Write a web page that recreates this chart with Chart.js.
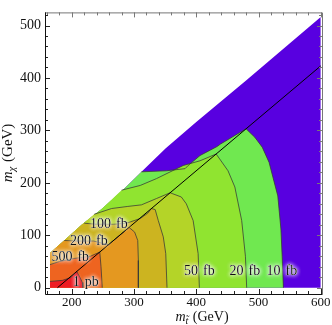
<!DOCTYPE html>
<html>
<head>
<meta charset="utf-8">
<script src="https://cdn.jsdelivr.net/npm/chart.js@4.4.1/dist/chart.umd.min.js"></script>
<style>
  html, body { margin: 0; padding: 0; background: #fff; }
  canvas { display: block; }
</style>
</head>
<body>
<canvas id="chart" width="332" height="325"></canvas>
<script>
// Axis ticks
const xTicks = [200, 300, 400, 500, 600];
const yTicks = [0, 100, 200, 300, 400, 500];

// Contour levels, lowest first
const levelNames = ['10 fb', '20 fb', '50 fb', '100 fb', '200 fb', '500 fb', '1 pb'];

// Upper edge of the computed region [m_stop, m_chi]
const domainEdge = [[165, 66], [186, 88], [216, 120], [248, 150], [280, 184], [312, 221], [351, 266], [400, 316], [480, 395], [600, 516]];

// Contours, from the upper edge down to m_chi = 0
const contour10fb = [[312, 221], [352, 223], [382, 227], [387, 233], [406, 252], [433, 269], [439, 274], [480, 303], [494, 287], [506, 268], [517, 239], [531, 175], [536, 112], [538, 60], [540, 0]];
const contour20fb = [[280, 186], [310, 195], [336, 208], [379, 233], [406, 242], [432, 255], [451, 223], [462, 192], [473, 128], [479, 60], [481, 0]];
const contour50fb = [[236, 140], [264, 151], [290, 155], [312, 158], [336, 170], [358, 181], [376, 173], [384, 160], [395, 128], [403, 65], [405, 0]];
const contour100fb = [[220, 123], [240, 121], [267, 121], [288, 123], [310, 132], [322, 142], [328, 151], [334, 149], [339, 128], [347, 97], [351, 65], [353, 0]];
const contour200fb = [[188, 90], [210, 89], [235, 89], [259, 82], [292, 115], [301, 106], [306, 90], [307, 52], [307, 0]];
const contour500fb = [[165, 44], [180, 50], [205, 56], [230, 60], [245, 68], [247, 40], [249, 0]];
const contour1pb = [[165, 12], [185, 14], [198, 19], [208, 31], [213, 20], [217, 10], [218, 0]];

// m_stop - m_chi = m_top line
const topLine = [[177, 0], [600, 423]];

// where the contour labels sit
const labelX = [539.5, 480, 407, 267, 235, 205, 217];
const labelY = [32, 32, 32, 121, 89, 57, 10];

const contours = [contour10fb, contour20fb, contour50fb, contour100fb, contour200fb, contour500fb, contour1pb];
const bandColors = ['#5800e0', '#70e850', '#90e430', '#b4d428', '#ccb420', '#e49820', '#ee6420', '#ee1c24'];

const toXY = pts => pts.map(p => ({x: p[0], y: p[1]}));

const datasets = [];

// threshold line on top
datasets.push({
    data: toXY(topLine),
    showLine: true,
    borderColor: '#000',
    borderWidth: 1,
    pointRadius: 0,
    fill: false,
    order: 0
});

// contour lines
contours.forEach(c => {
    datasets.push({
        data: toXY(c),
        showLine: true,
        borderColor: 'rgba(55,55,55,0.85)',
        borderWidth: 0.9,
        pointRadius: 0,
        fill: false,
        order: 1
    });
});

// filled bands, highest level drawn last
contours.forEach((c, i) => {
    const region = domainEdge.filter(p => p[0] < c[0][0]).concat(c);
    datasets.push({
        data: toXY(region),
        showLine: true,
        borderColor: 'rgba(0,0,0,0)',
        borderWidth: 0,
        pointRadius: 0,
        backgroundColor: bandColors[i + 1],
        fill: {value: 0},
        order: 20 - i
    });
});

datasets.push({
    data: toXY(domainEdge.concat([[600, 0]])),
    showLine: true,
    borderColor: 'rgba(0,0,0,0)',
    borderWidth: 0,
    pointRadius: 0,
    backgroundColor: bandColors[0],
    fill: {value: 0},
    order: 30
});

const serif = '"Liberation Serif", "DejaVu Serif", serif';

function drawTitle(ctx, sub, cx, cy, rotate, size) {
    ctx.save();
    ctx.translate(cx, cy);
    if (rotate) ctx.rotate(-Math.PI / 2);
    ctx.fillStyle = '#111';
    ctx.textBaseline = 'alphabetic';
    const fMain = 'italic ' + size + 'px ' + serif;
    const fSub = 'italic ' + Math.round(size * 0.72) + 'px ' + serif;
    const fRest = size + 'px ' + serif;
    ctx.font = fMain; const w1 = ctx.measureText('m').width;
    ctx.font = fSub; const w2 = ctx.measureText(sub).width;
    ctx.font = fRest; const w3 = ctx.measureText(' (GeV)').width;
    let x = -(w1 + w2 + 1 + w3) / 2;
    ctx.textAlign = 'left';
    ctx.font = fMain; ctx.fillText('m', x, 0); x += w1;
    ctx.font = fSub; ctx.fillText(sub, x, 3); x += w2 + 1;
    ctx.font = fRest; ctx.fillText(' (GeV)', x, 0);
    ctx.restore();
}

const framePlugin = {
    id: 'framePlugin',
    afterDatasetsDraw(chart) {
        const {ctx, scales: {x, y}} = chart;
        ctx.save();
        ctx.font = '14px ' + serif;
        ctx.textBaseline = 'middle';
        levelNames.forEach((name, i) => {
            const parts = name.split(' ');
            const px = x.getPixelForValue(labelX[i]);
            const py = y.getPixelForValue(labelY[i]);
            const gap = 2.5;
            const draw = () => {
                ctx.textAlign = 'right';
                ctx.fillText(parts[0], px - gap, py);
                ctx.textAlign = 'left';
                ctx.fillText(parts[1], px + gap, py);
            };
            ctx.shadowColor = 'rgba(255,255,255,1)';
            ctx.shadowBlur = 4;
            ctx.fillStyle = 'rgba(255,255,255,0.9)';
            for (let k = 0; k < 3; k++) draw();
            ctx.shadowBlur = 0;
            ctx.shadowColor = 'rgba(0,0,0,0)';
            ctx.fillStyle = '#111';
            draw();
        });
        ctx.restore();
    },
    afterDraw(chart) {
        const {ctx, chartArea: a, scales: {x, y}} = chart;
        ctx.save();
        // ticks on all four sides, pointing inward
        ctx.lineWidth = 1;
        for (let v = 160; v <= 600; v += 20) {
            const px = Math.round(x.getPixelForValue(v)) + 0.5;
            const len = v % 100 === 0 ? 5 : 3;
            ctx.strokeStyle = '#222';
            ctx.beginPath(); ctx.moveTo(px, a.bottom); ctx.lineTo(px, a.bottom - len); ctx.stroke();
            ctx.strokeStyle = '#777';
            ctx.beginPath(); ctx.moveTo(px, a.top); ctx.lineTo(px, a.top + len); ctx.stroke();
        }
        for (let v = 0; v <= 520; v += 20) {
            const py = Math.round(y.getPixelForValue(v)) + 0.5;
            const len = v % 100 === 0 ? 5 : 3;
            ctx.strokeStyle = '#222';
            ctx.beginPath(); ctx.moveTo(a.left, py); ctx.lineTo(a.left + len, py); ctx.stroke();
            ctx.strokeStyle = '#777';
            ctx.beginPath(); ctx.moveTo(a.right, py); ctx.lineTo(a.right - len, py); ctx.stroke();
        }
        // frame
        ctx.strokeStyle = '#777';
        ctx.beginPath();
        ctx.moveTo(a.left, a.top + 0.5); ctx.lineTo(a.right + 0.5, a.top + 0.5);
        ctx.lineTo(a.right + 0.5, a.bottom);
        ctx.stroke();
        ctx.strokeStyle = '#111';
        ctx.beginPath();
        ctx.moveTo(a.left + 0.5, a.top); ctx.lineTo(a.left + 0.5, a.bottom + 0.5);
        ctx.lineTo(a.right + 0.5, a.bottom + 0.5);
        ctx.stroke();
        ctx.restore();

        drawTitle(ctx, 't\u0303', 202, 321, false, 14);
        drawTitle(ctx, '\u03c7', 12, 153, true, 15);
    }
};

new Chart(document.getElementById('chart'), {
    type: 'scatter',
    data: {datasets},
    options: {
        responsive: false,
        animation: false,
        layout: {padding: {top: 11, right: 10, left: 0, bottom: 0}},
        plugins: {
            legend: {display: false},
            tooltip: {enabled: false}
        },
        scales: {
            x: {
                type: 'linear',
                min: 157,
                max: 602,
                afterBuildTicks: s => { s.ticks = xTicks.map(v => ({value: v})); },
                afterFit: s => { s.height = 31; },
                grid: {display: false, drawTicks: false},
                border: {display: false},
                ticks: {color: '#111', padding: 1, maxRotation: 0, font: {family: serif, size: 13}}
            },
            y: {
                type: 'linear',
                min: -12,
                max: 525,
                afterBuildTicks: s => { s.ticks = yTicks.map(v => ({value: v})); },
                afterFit: s => { s.width = 45; },
                grid: {display: false, drawTicks: false},
                border: {display: false},
                ticks: {color: '#111', padding: 4, font: {family: serif, size: 14}}
            }
        }
    },
    plugins: [framePlugin]
});
</script>
</body>
</html>
